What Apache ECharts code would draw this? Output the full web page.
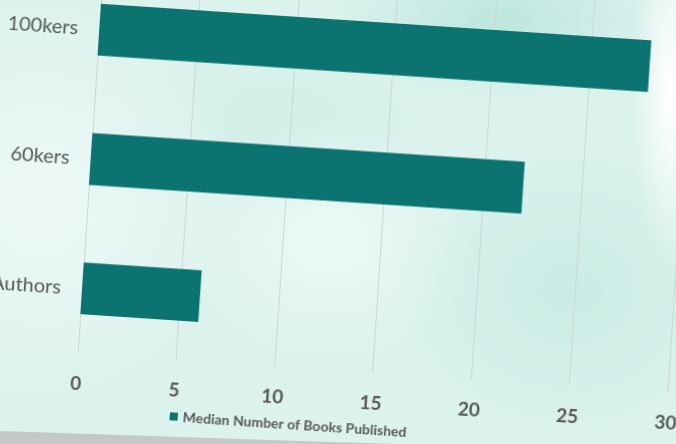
<!DOCTYPE html>
<html>
<head>
<meta charset="utf-8">
<script src="https://cdn.jsdelivr.net/npm/echarts@6/dist/echarts.min.js"></script>
<style>
  html, body { margin: 0; padding: 0; }
  body {
    width: 676px; height: 444px; overflow: hidden; position: relative;
    background:
      radial-gradient(ellipse 40px 180px at 672px 90px, rgba(255,255,255,1), rgba(255,255,255,0) 100%),
      radial-gradient(ellipse 170px 80px at 500px 20px, rgba(186,230,220,0.95), rgba(186,230,220,0) 100%),
      radial-gradient(ellipse 180px 150px at 570px 290px, rgba(198,235,226,0.85), rgba(198,235,226,0) 100%),
      radial-gradient(ellipse 150px 120px at 330px 240px, rgba(238,250,247,0.9), rgba(238,250,247,0) 100%),
      radial-gradient(ellipse 200px 200px at 40px 200px, rgba(240,250,248,0.9), rgba(240,250,248,0) 100%),
      radial-gradient(ellipse 160px 100px at 280px 120px, rgba(206,238,230,0.7), rgba(206,238,230,0) 100%),
      #dcf2ed;
  }
  #chart {
    position: absolute; left: -40px; top: -20px;
    width: 780px; height: 500px;
    transform-origin: 378px 242px;
    transform: rotate(3.8deg);
  }
  #edge {
    position: absolute; left: 0; top: 0; width: 676px; height: 444px;
    background: linear-gradient(180deg, #76797a 0%, #a3a6a7 60%, #c6c9c9 100%);
    clip-path: polygon(0 431px, 150px 436px, 300px 441px, 400px 444px, 0 444px);
  }
</style>
</head>
<body>
<div id="chart"></div>
<div id="edge"></div>
<script>
  // Median number of books published per author group
  const categories = ['Authors', '60kers', '100kers'];
  const medianBooks = [6, 22, 28];
  const seriesName = 'Median Number of Books Published';
  const xTicks = { min: 0, max: 30, interval: 5 };

  const chart = echarts.init(document.getElementById('chart'), null, { renderer: 'canvas' });
  const textColor = '#595959';

  chart.setOption({
    backgroundColor: 'transparent',
    animation: false,
    grid: { left: 127, right: 62, top: 1, bottom: 110, containLabel: false },
    legend: {
      data: [seriesName],
      left: 218, top: 435,
      itemWidth: 8, itemHeight: 8, itemGap: 4,
      icon: 'rect',
      textStyle: { color: textColor, fontFamily: 'Lato', fontWeight: 'bold', fontSize: 14 }
    },
    xAxis: {
      type: 'value',
      min: xTicks.min, max: xTicks.max, interval: xTicks.interval,
      axisLine: { show: false },
      axisTick: { show: false },
      axisLabel: { color: textColor, fontFamily: 'Lato', fontWeight: 'bold', fontSize: 19, margin: 21 },
      splitLine: { show: true, lineStyle: { color: '#ccd8d5', width: 1 } }
    },
    yAxis: {
      type: 'category',
      data: categories,
      axisLine: { show: false },
      axisTick: { show: false },
      axisLabel: { color: textColor, fontFamily: 'Lato', fontSize: 20, margin: 21 }
    },
    series: [{
      name: seriesName,
      type: 'bar',
      data: medianBooks,
      barCategoryGap: '60%',
      itemStyle: { color: '#0b7470' }
    }]
  });
</script>
</body>
</html>
